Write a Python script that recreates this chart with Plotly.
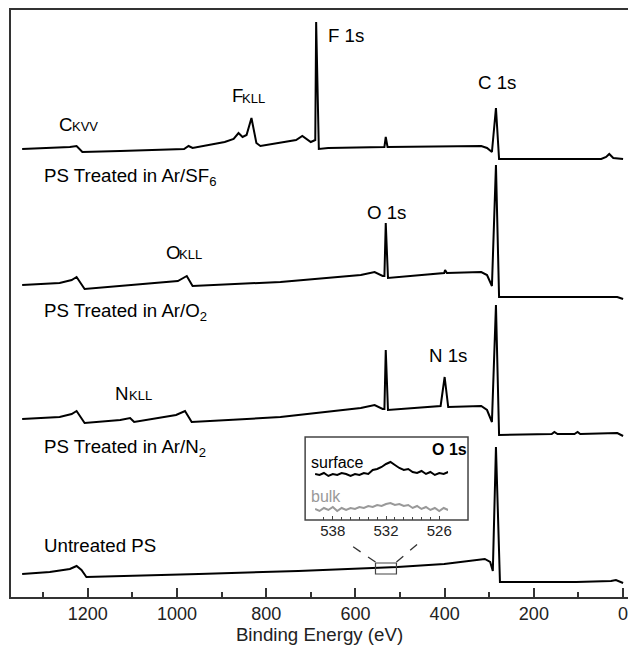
import plotly.graph_objects as go

# ---- Survey spectra: binding energy (eV) vs. stacked intensity (a.u., offset per sample) ----
sf6_be = [1347, 1263, 1240, 1225, 1212, 1127, 984, 974, 965, 893, 873, 862, 853, 844, 833, 822, 813,
          733, 719, 700, 690, 688, 682, 661, 535, 532, 528, 318, 305, 294, 285, 278, 49, 38, 31, 22, 0]
sf6_int = [448, 449, 450, 451, 445, 446, 448, 451, 449, 455, 458, 464, 460, 462, 479, 454, 451,
           457, 461, 455, 457, 575, 448, 449, 450, 460, 450, 451, 449, 445, 489, 438, 438, 440, 443, 439, 438]

o2_be = [1347, 1263, 1236, 1225, 1207, 1038, 998, 978, 965, 768, 588, 557, 539, 535, 532, 527,
         401, 399, 395, 318, 305, 294, 285, 278, 13, 0]
o2_int = [312, 314, 317, 320, 308, 314, 316, 321, 311, 315, 322, 325, 321, 321, 374, 319,
          324, 327, 324, 325, 322, 311, 432, 300, 300, 298]

n2_be = [1347, 1263, 1236, 1225, 1207, 1127, 1105, 1096, 1002, 991, 982, 967, 768, 588, 557, 539,
         535, 532, 527, 409, 400, 392, 318, 305, 294, 285, 278, 160, 154, 147, 109, 102, 96, 13, 0]
n2_int = [178, 180, 183, 186, 174, 177, 179, 175, 182, 184, 186, 175, 180, 189, 192, 188,
          188, 247, 187, 191, 220, 190, 191, 187, 175, 292, 162, 163, 165, 163, 163, 165, 163, 164, 161]

untreated_be = [1347, 1285, 1240, 1225, 1214, 1203, 951, 728, 506, 401, 310, 298, 292, 285, 276, 105, 27, 16, 0]
untreated_int = [23, 25, 28, 31, 27, 20, 23, 26, 30, 33, 38, 35, 26, 150, 15, 15, 16, 17, 14]

# ---- O 1s high-resolution window (inset) ----
o1s_be = [540, 539.5, 539, 538.5, 538, 537.5, 537, 536.5, 536, 535.5, 535, 534.5, 534, 533.5, 533,
          532.5, 532, 531.5, 531, 530.5, 530, 529.5, 529, 528.5, 528, 527.5, 527, 526.5, 526, 525.5, 525]
o1s_surface = [46, 45, 47, 44, 46, 45, 47, 46, 44, 46, 45, 47, 46, 50, 51,
               53, 56, 58, 55, 52, 50, 51, 48, 47, 49, 46, 48, 45, 47, 46, 48]
o1s_bulk = [11, 9, 12, 10, 13, 9, 12, 10, 12, 11, 13, 12, 14, 13, 15,
            14, 16, 17, 15, 16, 14, 15, 12, 14, 11, 13, 10, 12, 9, 12, 10]
inset_ticks = [538, 532, 526]

FONT = "Liberation Sans, Arial, sans-serif"
AX = "#333333"
BIG = 18.7
SMALL = 13

fig = go.Figure()
for be, inten in [(sf6_be, sf6_int), (o2_be, o2_int), (n2_be, n2_int), (untreated_be, untreated_int)]:
    fig.add_trace(go.Scatter(x=be, y=inten, mode="lines", line=dict(color="black", width=2),
                             showlegend=False, hoverinfo="skip"))

fig.add_trace(go.Scatter(x=o1s_be, y=o1s_surface, mode="lines", xaxis="x2", yaxis="y2",
                         line=dict(color="black", width=2), showlegend=False, hoverinfo="skip"))
fig.add_trace(go.Scatter(x=o1s_be, y=o1s_bulk, mode="lines", xaxis="x2", yaxis="y2",
                         line=dict(color="#999999", width=2), showlegend=False, hoverinfo="skip"))


def label(text, x, y, anchor="center", size=BIG, color="black", ref=("x", "y")):
    fig.add_annotation(text=text, x=x, y=y, xref=ref[0], yref=ref[1], showarrow=False,
                       xanchor=anchor, yanchor="middle", font=dict(family=FONT, size=size, color=color))


def auger(elem, be_elem, y_elem, series, be_series, y_series):
    # element symbol followed by the Auger series in small capitals
    label(elem, be_elem, y_elem, anchor="left")
    label(series, be_series, y_series, anchor="left", size=SMALL)


auger("C", 1269, 472.5, "KVV", 1240, 470.5)
auger("F", 881, 501.5, "KLL", 858, 498.5)
auger("O", 1029, 344.7, "KLL", 999, 342.5)
auger("N", 1144, 204, "KLL", 1113, 202)

label("F 1s", 622, 562)
label("C 1s", 283, 515)
label("O 1s", 530, 385)
label("N 1s", 392, 242)
label("PS Treated in Ar/SF<sub>6</sub>", 1303, 420, anchor="left")
label("PS Treated in Ar/O<sub>2</sub>", 1303, 285, anchor="left")
label("PS Treated in Ar/N<sub>2</sub>", 1303, 149, anchor="left")
label("Untreated PS", 1303, 52, anchor="left")

# inset labels
label("<b>O 1s</b>", 0.710, 0.2521, size=16, ref=("paper", "paper"))
label("surface", 0.4830, 0.2283, anchor="left", size=16, ref=("paper", "paper"))
label("bulk", 0.4830, 0.1704, anchor="left", size=16, color="#999999", ref=("paper", "paper"))

# inset frame
fig.add_shape(type="rect", xref="paper", yref="paper", x0=0.4767, x1=0.7407, y0=0.1312, y1=0.2726,
              line=dict(color="#444444", width=1.5))
# zoomed region on the untreated spectrum and its connectors
fig.add_shape(type="rect", xref="x", yref="y", x0=555, x1=508, y0=23, y1=34,
              line=dict(color="#444444", width=1.2))
fig.add_shape(type="line", xref="x", yref="y", x0=555, y0=35, x1=621, y1=55,
              line=dict(color="#333333", width=1.3, dash="dash"))
fig.add_shape(type="line", xref="x", yref="y", x0=508, y0=35, x1=450, y1=57,
              line=dict(color="#333333", width=1.3, dash="dash"))

fig.update_layout(
    width=632, height=645,
    margin=dict(l=11, r=0, t=10, b=48),
    paper_bgcolor="white", plot_bgcolor="white",
    font=dict(family=FONT, color="#222222"),
    xaxis=dict(range=[1372, -11], showgrid=False, zeroline=False,
               showline=True, linecolor=AX, linewidth=1.5, mirror=True,
               ticks="inside", ticklen=9, tickwidth=1.5, tickcolor=AX,
               tick0=0, dtick=200, tickfont=dict(size=18, family=FONT, color="#222222"),
               minor=dict(ticks="inside", ticklen=5, tickwidth=1.5, tickcolor=AX, dtick=100, tick0=0),
               title=dict(text="Binding Energy (eV)", font=dict(size=BIG, family=FONT, color="#222222"),
                          standoff=5),
               automargin=False),
    yaxis=dict(range=[0, 587], showgrid=False, zeroline=False, showline=True, linecolor=AX,
               linewidth=1.5, showticklabels=False, ticks=""),
    xaxis2=dict(domain=[0.4928, 0.7085], anchor="y2", range=[540, 525], showgrid=False, zeroline=False,
                showline=False, ticks="inside", ticklen=4, tickwidth=1.2, tickcolor="#444444",
                tickvals=inset_ticks, ticktext=[str(t) for t in inset_ticks],
                tickfont=dict(size=15, family=FONT, color="#222222"),
                minor=dict(ticks="inside", ticklen=3, tickwidth=1.2, tickcolor="#444444", dtick=1, tick0=525)),
    yaxis2=dict(domain=[0.1312, 0.2726], anchor="x2", range=[0, 83], visible=False),
)

fig.write_html("out.html")
